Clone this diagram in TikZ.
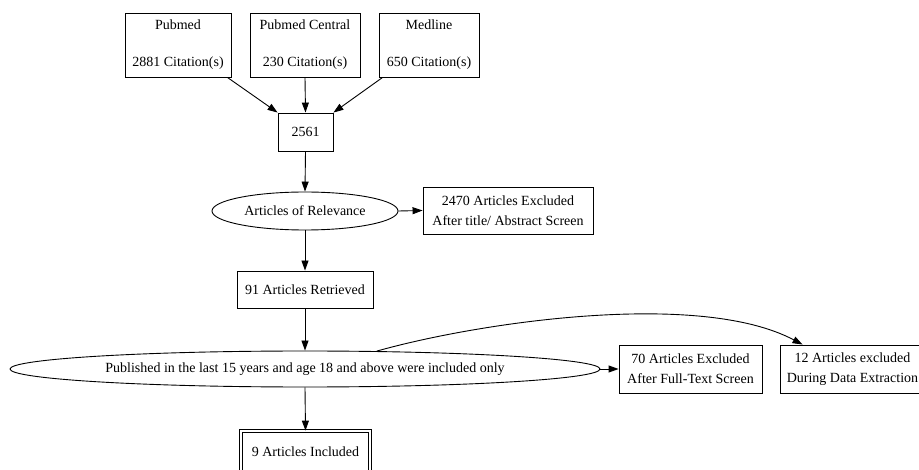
\documentclass[tikz,border=0pt]{standalone}
\usepackage{fontspec}
\setmainfont{Liberation Serif}
\usetikzlibrary{shapes.geometric,arrows.meta}
\begin{document}
\begin{tikzpicture}[x=1pt,y=-1pt,
  every node/.style={font=\fontsize{14}{17}\selectfont, inner sep=0pt, align=center},
  srcbox/.style={draw, line width=0.9pt, minimum height=64pt, font=\fontsize{14}{37}\selectfont},
  plainbox/.style={draw, line width=0.9pt},
  twobox/.style={draw, line width=0.9pt, font=\fontsize{14}{20}\selectfont},
  oval/.style={draw, line width=0.9pt, ellipse},
  edge/.style={line width=0.9pt, -{Triangle[length=10pt,width=7pt]}}
]
\clip (0,0) rectangle (919,470);
\fill[white] (0,0) rectangle (919,470);

% source boxes
\node[srcbox, minimum width=106pt] (pubmed) at (178,45) {Pubmed\\2881 Citation(s)};
\node[srcbox, minimum width=110pt] (pmc) at (305,45) {Pubmed Central\\230 Citation(s)};
\node[srcbox, minimum width=100pt] (medline) at (429,45) {Medline\\650 Citation(s)};

\node[plainbox, minimum width=55pt, minimum height=38pt] (total) at (305.5,132) {2561};

\node[oval, minimum width=186pt, minimum height=38pt] (rel) at (305,211) {Articles of Relevance};
\node[twobox, minimum width=170pt, minimum height=47pt] (ex1) at (508,210.5) {2470 Articles Excluded\\After title/ Abstract Screen};

\node[plainbox, minimum width=136pt, minimum height=37pt] (retr) at (305,289.5) {91 Articles Retrieved};

\node[oval, minimum width=590pt, minimum height=36pt] (pub) at (305,369) {Published in the last 15 years and age 18 and above were included only};
\node[twobox, minimum width=143pt, minimum height=48pt] (ex2) at (690.5,369) {70 Articles Excluded\\After Full-Text Screen};
\node[twobox, minimum width=145pt, minimum height=48pt] (ex3) at (852.5,369) {12 Articles excluded\\During Data Extraction};

\node[draw, line width=0.8pt, double, double distance=2.4pt, minimum width=129pt, minimum height=42pt] (incl) at (305.5,452) {9 Articles Included};

% connectors
\draw[edge] ([xshift=-4pt]pubmed.south east) -- (total.north west);
\draw[edge] (pmc.south) -- (total.north);
\draw[edge] ([xshift=4pt]medline.south west) -- (total.north east);
\draw[edge] (total.south) -- (rel.north);
\draw[edge] (rel.east) -- (ex1.west);
\draw[edge] (rel.south) -- (retr.north);
\draw[edge] (retr.south) -- (pub.north);
\draw[edge] (pub.east) -- (ex2.west);
\draw[edge] (pub.south) -- (incl.north);
\coordinate (c3) at ([xshift=23pt]ex3.north west);
\draw[edge] (pub.14) .. controls (480,322) and (700,290) .. (c3);
\end{tikzpicture}
\end{document}
